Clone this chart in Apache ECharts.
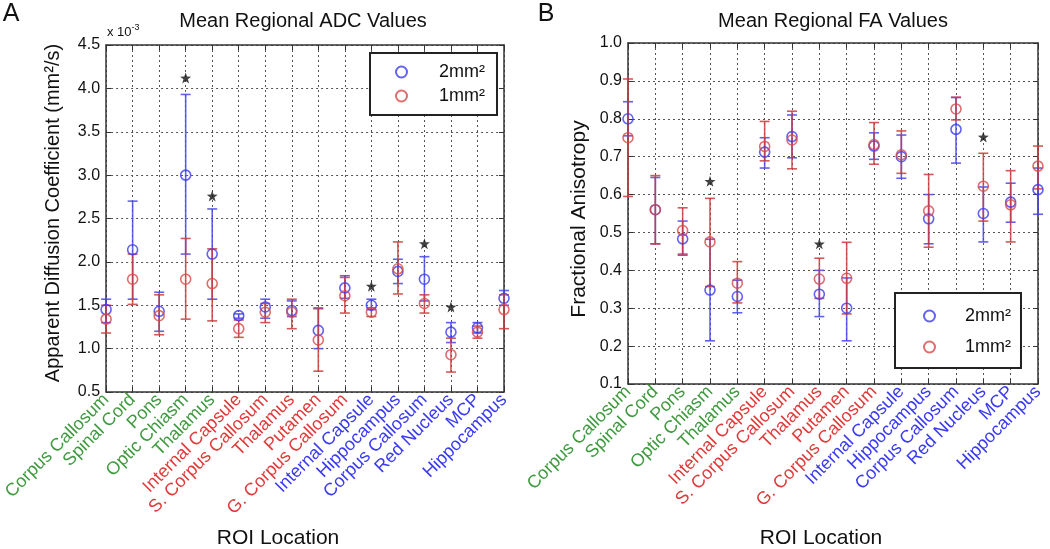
<!DOCTYPE html>
<html>
<head>
<meta charset="utf-8">
<script src="https://cdn.jsdelivr.net/npm/echarts@6/dist/echarts.min.js"></script>
<style>
html,body{margin:0;padding:0;background:#fff;}
#c{width:1050px;height:549px;}
</style>
</head>
<body>
<div id="c"></div>
<script>
// ---- data ----
const categories = ['Corpus Callosum','Spinal Cord','Pons','Optic Chiasm','Thalamus',
  'Internal Capsule','S. Corpus Callosum','Thalamus','Putamen','G. Corpus Callosum',
  'Internal Capsule','Hippocampus','Corpus Callosum','Red Nucleus','MCP','Hippocampus'];
const groups = ['g','g','g','g','g','r','r','r','r','r','b','b','b','b','b','b'];

// ADC (x 10^-3 mm^2/s)
const adc2Mean = [1.45, 2.14, 1.43, 3.00, 2.09, 1.38, 1.48, 1.44, 1.21, 1.70, 1.50, 1.89, 1.80, 1.19, 1.24, 1.58];
const adc2Low  = [1.30, 1.57, 1.20, 2.09, 1.57, 1.35, 1.35, 1.37, 1.00, 1.58, 1.45, 1.75, 1.55, 1.07, 1.18, 1.50];
const adc2High = [1.57, 2.70, 1.65, 3.93, 2.61, 1.40, 1.57, 1.55, 1.46, 1.84, 1.57, 2.03, 2.06, 1.30, 1.30, 1.67];
const adc1Mean = [1.34, 1.80, 1.38, 1.80, 1.75, 1.23, 1.42, 1.42, 1.10, 1.61, 1.42, 1.92, 1.52, 0.93, 1.19, 1.45];
const adc1Low  = [1.18, 1.51, 1.16, 1.34, 1.32, 1.13, 1.30, 1.23, 0.74, 1.41, 1.37, 1.63, 1.41, 0.73, 1.12, 1.23];
const adc1High = [1.50, 2.09, 1.62, 2.27, 2.15, 1.33, 1.52, 1.57, 1.47, 1.82, 1.47, 2.23, 1.62, 1.12, 1.26, 1.62];
const adcStarIdx = [3, 4, 10, 12, 13];
const adcStarVal = [4.12, 2.76, 1.72, 2.21, 1.48];

// FA
const fa2Mean = [0.800, 0.560, 0.483, 0.348, 0.331, 0.712, 0.753, 0.337, 0.300, 0.728, 0.700, 0.536, 0.772, 0.550, 0.580, 0.613];
const fa2Low  = [0.755, 0.470, 0.440, 0.214, 0.288, 0.670, 0.697, 0.278, 0.214, 0.693, 0.643, 0.470, 0.683, 0.475, 0.527, 0.548];
const fa2High = [0.845, 0.645, 0.530, 0.482, 0.374, 0.750, 0.810, 0.400, 0.380, 0.763, 0.757, 0.600, 0.856, 0.620, 0.630, 0.670];
const fa1Mean = [0.750, 0.560, 0.505, 0.475, 0.366, 0.727, 0.744, 0.377, 0.379, 0.732, 0.705, 0.557, 0.826, 0.622, 0.573, 0.675];
const fa1Low  = [0.595, 0.470, 0.443, 0.357, 0.314, 0.689, 0.668, 0.326, 0.285, 0.680, 0.656, 0.461, 0.797, 0.530, 0.475, 0.615];
const fa1High = [0.905, 0.650, 0.565, 0.590, 0.423, 0.793, 0.820, 0.432, 0.474, 0.790, 0.768, 0.653, 0.857, 0.709, 0.663, 0.728];
const faStarIdx = [3, 7, 13];
const faStarVal = [0.635, 0.470, 0.752];

const adcTicks = {min: 0.5, max: 4.5, interval: 0.5};
const faTicks = {min: 0.1, max: 1.0, interval: 0.1};
const legendNames = ['2mm²', '1mm²'];

// ---- styling ----
const BLUE = '#3b3bf0', RED = '#d84848';
const BLUE_BAR = 'rgba(70,70,235,0.85)', RED_BAR = 'rgba(205,60,60,0.85)';
const FONT = 'Liberation Sans, Arial, sans-serif';
const starPath = 'path://M10,0 L12.35,6.76 L19.51,6.91 L13.8,11.24 L15.88,18.09 L10,14 L4.12,18.09 L6.2,11.24 L0.49,6.91 L7.65,6.76 Z';

const chart = echarts.init(document.getElementById('c'), null, {renderer: 'canvas'});

function errRender(color) {
  return function (params, api) {
    const x = api.value(0);
    const lo = api.coord([x, api.value(1)]);
    const hi = api.coord([x, api.value(2)]);
    const hw = 5;
    const st = {stroke: color, lineWidth: 1.6};
    return {type: 'group', children: [
      {type: 'line', shape: {x1: lo[0], y1: lo[1], x2: hi[0], y2: hi[1]}, style: st},
      {type: 'line', shape: {x1: lo[0]-hw, y1: lo[1], x2: lo[0]+hw, y2: lo[1]}, style: st},
      {type: 'line', shape: {x1: hi[0]-hw, y1: hi[1], x2: hi[0]+hw, y2: hi[1]}, style: st}
    ]};
  };
}

function errSeries(lows, highs, color, gi) {
  return {type: 'custom', xAxisIndex: gi*2, yAxisIndex: gi*2, renderItem: errRender(color),
    data: lows.map((l, i) => [i, l, highs[i]]), encode: {x: 0, y: [1, 2]}, z: 2, silent: true, clip: false};
}
function meanSeries(name, means, color, gi) {
  return {type: 'scatter', name: name, xAxisIndex: gi*2, yAxisIndex: gi*2, symbol: 'circle', symbolSize: 10,
    itemStyle: {color: 'rgba(255,255,255,0)', borderColor: color, borderWidth: 1.6},
    data: means.map((v, i) => [i, v]), z: 3, clip: false};
}
function starSeries(idx, vals, gi) {
  return {type: 'scatter', xAxisIndex: gi*2, yAxisIndex: gi*2, symbol: starPath, symbolSize: 11,
    itemStyle: {color: '#111'}, data: idx.map((x, i) => [x, vals[i]]), z: 4, clip: false};
}

const labelRich = {
  g: {color: '#3f9a3f', fontSize: 18, fontFamily: FONT},
  r: {color: '#e03a3a', fontSize: 18, fontFamily: FONT},
  b: {color: '#3a3af2', fontSize: 18, fontFamily: FONT}
};

function xAxes(gi) {
  const base = {type: 'value', gridIndex: gi, min: 0, max: 15, interval: 1};
  return [
    Object.assign({}, base, {position: 'bottom',
      axisLine: {onZero: false, lineStyle: {color: '#333', width: 1.5}},
      axisTick: {inside: true, length: 5, lineStyle: {color: '#333'}},
      axisLabel: {rotate: 45, margin: 5, interval: 0,
        formatter: function (v) { const i = Math.round(v); return '{' + groups[i] + '|' + categories[i] + '}'; },
        rich: labelRich},
      splitLine: {show: true, lineStyle: {type: [2, 3], color: '#555', width: 1}}}),
    Object.assign({}, base, {position: 'top',
      axisLine: {onZero: false, lineStyle: {color: '#333', width: 1.5}},
      axisTick: {inside: true, length: 5, lineStyle: {color: '#333'}},
      axisLabel: {show: false}, splitLine: {show: false}})
  ];
}
function yAxes(gi, t) {
  const base = {type: 'value', gridIndex: gi, min: t.min, max: t.max, interval: t.interval};
  return [
    Object.assign({}, base, {position: 'left',
      axisLine: {show: true, onZero: false, lineStyle: {color: '#333', width: 1.5}},
      axisTick: {show: true, inside: true, length: 5, lineStyle: {color: '#333'}},
      axisLabel: {color: '#111', fontSize: 16, fontFamily: FONT, margin: 6,
        formatter: v => v.toFixed(1)},
      splitLine: {show: true, lineStyle: {type: [2, 3], color: '#555', width: 1}}}),
    Object.assign({}, base, {position: 'right',
      axisLine: {show: true, onZero: false, lineStyle: {color: '#333', width: 1.5}},
      axisTick: {show: true, inside: true, length: 5, lineStyle: {color: '#333'}},
      axisLabel: {show: false}, splitLine: {show: false}})
  ];
}

function legendCfg(left, top, padding, gap, textPad) {
  return {left: left, top: top, orient: 'vertical', itemGap: gap,
    padding: padding, borderColor: '#222', borderWidth: 2, backgroundColor: '#fff',
    itemWidth: 11, itemHeight: 11, selectedMode: false,
    textStyle: {fontSize: 18, fontFamily: FONT, color: '#111', padding: [0, 0, 0, textPad]},
    data: [{name: legendNames[0], icon: 'emptyCircle', itemStyle: {color: BLUE}},
           {name: legendNames[1], icon: 'emptyCircle', itemStyle: {color: RED}}]};
}

const txt = (x, y, text, size, extra) => ({type: 'text', x: x, y: y,
  style: Object.assign({text: text, fontSize: size, fontFamily: FONT, fill: '#111',
    align: 'center', verticalAlign: 'middle'}, extra || {})});

const option = {
  animation: false,
  backgroundColor: '#fff',
  grid: [
    {left: 103, top: 45, width: 401, height: 347, containLabel: false},
    {left: 628, top: 43, width: 410, height: 341, containLabel: false}
  ],
  xAxis: xAxes(0).concat(xAxes(1)),
  yAxis: yAxes(0, adcTicks).concat(yAxes(1, faTicks)),
  legend: [
    legendCfg(370, 53, [10, 12, 10, 25], 6, 27),
    legendCfg(895, 293, [14, 10, 12, 28], 13, 25)
  ],
  graphic: [
    txt(11, 14, 'A', 25),
    txt(546, 14, 'B', 25),
    txt(303, 21, 'Mean Regional ADC Values', 20),
    txt(833, 21, 'Mean Regional FA Values', 20),
    {type: 'text', x: 107, y: 32, style: {text: 'x 10{s|-3}', fontSize: 13, fontFamily: FONT, fill: '#111',
      verticalAlign: 'middle', rich: {s: {fontSize: 9, fontFamily: FONT, fill: '#111', verticalAlign: 'top', padding: [0, 0, 8, 0]}}}},
    txt(278, 538, 'ROI Location', 21),
    txt(821, 538, 'ROI Location', 21),
    {type: 'text', x: 53, y: 213, rotation: Math.PI / 2,
      style: {text: 'Apparent Diffusion Coefficient (mm²/s)', fontSize: 20, fontFamily: FONT, fill: '#111',
        align: 'center', verticalAlign: 'middle'}},
    {type: 'text', x: 579, y: 219, rotation: Math.PI / 2,
      style: {text: 'Fractional Anisotropy', fontSize: 21, fontFamily: FONT, fill: '#111',
        align: 'center', verticalAlign: 'middle'}}
  ],
  series: [
    errSeries(adc2Low, adc2High, BLUE_BAR, 0),
    errSeries(adc1Low, adc1High, RED_BAR, 0),
    meanSeries(legendNames[0], adc2Mean, BLUE, 0),
    meanSeries(legendNames[1], adc1Mean, RED, 0),
    starSeries(adcStarIdx, adcStarVal, 0),
    errSeries(fa2Low, fa2High, BLUE_BAR, 1),
    errSeries(fa1Low, fa1High, RED_BAR, 1),
    meanSeries(legendNames[0], fa2Mean, BLUE, 1),
    meanSeries(legendNames[1], fa1Mean, RED, 1),
    starSeries(faStarIdx, faStarVal, 1)
  ]
};
chart.setOption(option);
</script>
</body>
</html>
